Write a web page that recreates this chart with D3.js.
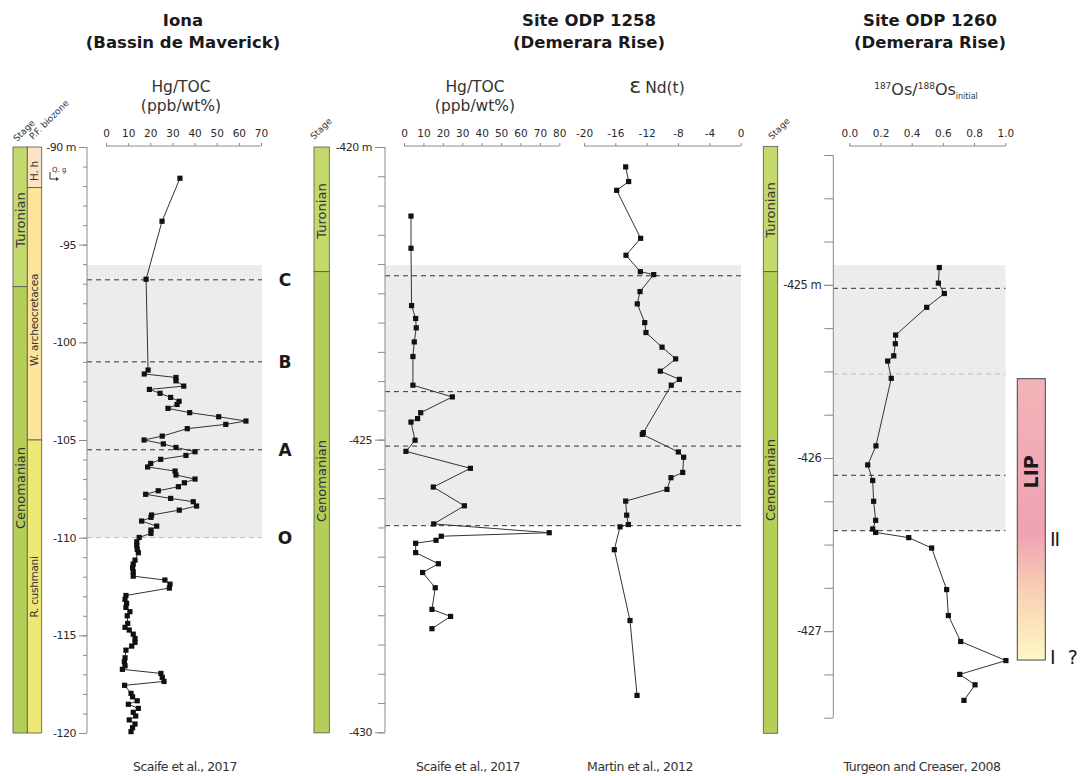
<!DOCTYPE html>
<html><head><meta charset="utf-8">
<script src="https://cdn.jsdelivr.net/npm/d3@7"></script>
<style>body{margin:0;background:#fff;} svg{display:block;font-family:"DejaVu Sans",sans-serif;}</style>
</head><body><svg id="c" width="1080" height="776"></svg>
<script>
// ---------------- DATA ----------------
const panelTitles = [["Iona","(Bassin de Maverick)"],["Site ODP 1258","(Demerara Rise)"],["Site ODP 1260","(Demerara Rise)"]];
const citations = ["Scaife et al., 2017","Scaife et al., 2017","Martin et al., 2012","Turgeon and Creaser, 2008"];

// Iona (Maverick Basin) Hg/TOC
const ionaDepth = [-91.6,-93.8,-96.77,-101.42,-101.62,-101.8,-101.97,-102.24,-102.41,-102.61,-102.82,-103.02,-103.18,-103.38,-103.6,-103.81,-104.03,-104.2,-104.42,-104.8,-105.0,-105.2,-105.38,-105.6,-105.79,-105.99,-106.2,-106.38,-106.59,-106.79,-107.0,-107.19,-107.39,-107.6,-107.78,-107.99,-108.16,-108.38,-108.59,-108.84,-108.96,-109.15,-109.41,-109.61,-109.78,-109.99,-110.21,-110.41,-110.6,-110.77,-111.15,-111.35,-111.54,-111.75,-111.97,-112.17,-112.38,-112.58,-112.96,-113.16,-113.36,-113.57,-113.79,-114.0,-114.39,-114.59,-114.73,-114.94,-115.16,-115.36,-115.55,-115.76,-116.15,-116.35,-116.56,-116.74,-116.95,-117.15,-117.36,-117.56,-117.97,-118.15,-118.35,-118.53,-118.74,-118.94,-119.13,-119.33,-119.54,-119.73,-119.93];
const ionaHgToc = [33.4,25.3,18.1,19.0,17.3,31.6,31.6,35.1,19.6,24.4,29.2,33.0,32.1,28.0,37.8,50.9,63.2,54.1,36.7,25.4,17.2,25.9,31.6,40.2,36.1,24.7,20.2,18.8,31.2,31.6,40.2,35.4,32.7,23.6,17.9,29.2,39.4,40.9,33.1,20.6,20.3,16.1,22.9,20.3,20.3,15.0,13.9,13.9,14.1,14.6,13.1,12.3,12.0,12.3,12.3,26.6,28.9,28.6,9.0,8.6,9.3,9.0,10.8,9.6,9.8,8.6,10.5,12.3,13.1,13.1,11.6,9.0,8.6,8.3,8.6,7.4,24.8,25.4,26.2,8.4,11.3,12.0,14.1,10.1,14.6,12.3,13.4,10.5,13.1,12.0,11.3];
const ionaHgTicks = [0,10,20,30,40,50,60,70];
const ionaDepthLabels = [-90,-95,-100,-105,-110,-115,-120];
const ionaStages = [{name:"Turonian",top:-90,base:-97.15,color:"#c4d96c"},{name:"Cenomanian",top:-97.15,base:-120,color:"#b4ce57"}];
const ionaZones = [{name:"H. h",top:-90,base:-92.08,color:"#fde3c3"},{name:"W. archeocretacea",top:-92.08,base:-105,color:"#fde49c"},{name:"R. cushmani",top:-105,base:-120,color:"#ede775"}];
const ionaShade = [-96.04,-110];
const ionaEvents = [{name:"C",depth:-96.8,grey:false},{name:"B",depth:-101.0,grey:false},{name:"A",depth:-105.5,grey:false},{name:"O",depth:-110,grey:true}];

// ODP 1258 Hg/TOC and eNd
const s1258HgDepth = [-421.18,-421.73,-422.71,-422.93,-423.09,-423.33,-423.58,-424.07,-424.27,-424.54,-424.64,-424.7,-425.01,-425.2,-425.49,-425.81,-426.13,-426.44,-426.59,-426.65,-426.72,-426.77,-426.93,-427.12,-427.27,-427.53,-427.9,-428.02,-428.23];
const s1258HgToc = [3.6,3.6,3.9,6.0,6.3,5.3,4.6,4.6,24.9,8.6,7.0,3.6,5.7,1.0,34.2,15.1,31.1,15.3,74.8,19.2,16.5,6.0,6.0,17.7,9.6,16.1,14.4,24.0,14.4];
const s1258NdDepth = [-420.34,-420.59,-420.74,-421.56,-421.85,-422.13,-422.18,-422.47,-422.68,-423.0,-423.17,-423.42,-423.62,-423.83,-423.97,-424.07,-424.88,-424.91,-425.21,-425.3,-425.56,-425.65,-425.85,-426.05,-426.29,-426.45,-426.49,-426.88,-428.09,-429.37];
const s1258Nd = [-14.68,-14.3,-15.83,-12.77,-14.64,-12.81,-11.1,-12.85,-13.2,-12.25,-12.09,-10.04,-8.3,-10.26,-7.83,-8.86,-12.43,-12.56,-7.96,-7.28,-7.4,-8.9,-9.41,-14.68,-14.55,-14.34,-15.4,-16.13,-14.13,-13.23];
const s1258HgTicks = [0,10,20,30,40,50,60,70,80];
const s1258NdTicks = [-20,-16,-12,-8,-4,0];
const s1258DepthLabels = [-420,-425,-430];
const s1258Stages = [{name:"Turonian",top:-420,base:-422.13,color:"#c4d96c"},{name:"Cenomanian",top:-422.13,base:-430.01,color:"#b4ce57"}];
const s1258Shade = [-422.02,-426.47];
const s1258Events = [-422.2,-424.18,-425.11,-426.47];

// ODP 1260 Os isotopes
const s1260Depth = [-424.9,-424.99,-425.05,-425.13,-425.29,-425.34,-425.41,-425.44,-425.54,-425.93,-426.04,-426.13,-426.25,-426.36,-426.41,-426.43,-426.46,-426.52,-426.76,-426.91,-427.06,-427.17,-427.25,-427.31,-427.4];
const s1260Os = [0.577,0.571,0.609,0.496,0.297,0.295,0.285,0.246,0.269,0.171,0.118,0.15,0.156,0.169,0.15,0.169,0.381,0.528,0.624,0.635,0.714,1.004,0.708,0.806,0.735];
const s1260OsTicks = [0,0.2,0.4,0.6,0.8,1.0];
const s1260DepthLabels = [-425,-426,-427];
const s1260Stages = [{name:"Turonian",top:-424.2,base:-424.924,color:"#c4d96c"},{name:"Cenomanian",top:-424.924,base:-427.59,color:"#b4ce57"}];
const s1260Shade = [-424.886,-426.42];
const s1260Events = [{depth:-425.02,grey:false},{depth:-425.515,grey:true},{depth:-426.1,grey:false},{depth:-426.42,grey:false}];
const lipInterval = [-425.542,-427.167];
const lipLabelDepth = -426.08;
const lipPhases = [{name:"II",depth:-426.47},{name:"I ?",depth:-427.15}];

// ---------------- DRAW ----------------
const svg = d3.select("#c");
const TXT = "#2b2b2b", AX = "#8a8a8a";

function titles(cx, lines){
  svg.append("text").attr("x",cx).attr("y",26).attr("text-anchor","middle").attr("font-weight","bold").attr("font-size",16.5).attr("fill","#1a1a1a").text(lines[0]);
  svg.append("text").attr("x",cx).attr("y",48).attr("text-anchor","middle").attr("font-weight","bold").attr("font-size",16.5).attr("fill","#1a1a1a").text(lines[1]);
}
titles(183, panelTitles[0]); titles(589, panelTitles[1]); titles(930, panelTitles[2]);

function axisTitle(cx, lines){
  lines.forEach((l,i)=>svg.append("text").attr("x",cx).attr("y",92+i*19).attr("text-anchor","middle").attr("font-size",15.5).attr("fill","#333").text(l));
}

function topAxis(x, ticks, fmt){
  const g = svg.append("g").attr("transform","translate(0,146)")
    .call(d3.axisTop(x).tickValues(ticks).tickSize(3).tickSizeOuter(3).tickPadding(6).tickFormat(fmt||(d=>d)));
  g.select(".domain").attr("stroke",AX).attr("d",`M${x.range()[0]},0H${x.range()[1]}`);
  g.selectAll(".tick line").attr("stroke",AX);
  g.selectAll("text").attr("font-size",10.5).attr("fill",TXT).attr("font-family","DejaVu Sans");
}

function depthAxis(y, ax, minorVals, labelVals, minorLen, majorLen, fs, unitFirst){
  const g = svg.append("g").attr("transform",`translate(${ax},0)`);
  g.call(d3.axisLeft(y).tickValues(minorVals).tickSize(minorLen).tickSizeOuter(0).tickFormat(""));
  g.select(".domain").attr("stroke",AX).attr("d",`M0,${y.range()[0]}V${y.range()[1]}`);
  g.selectAll(".tick line").attr("stroke",AX);
  const g2 = svg.append("g").attr("transform",`translate(${ax},0)`);
  g2.call(d3.axisLeft(y).tickValues(labelVals).tickSize(majorLen).tickSizeOuter(0).tickPadding(3)
    .tickFormat((d,i)=> i===0 && unitFirst ? d+" m" : d));
  g2.select(".domain").remove();
  g2.selectAll(".tick line").attr("stroke",AX);
  g2.selectAll("text").attr("font-size",fs).attr("fill",TXT).attr("font-family","DejaVu Sans").attr("letter-spacing","-0.5");
  return g2;
}

function column(y, x0, w, items, labelY){
  const g = svg.append("g");
  g.selectAll("rect").data(items).join("rect")
    .attr("x",x0).attr("width",w).attr("y",d=>y(d.top)).attr("height",d=>y(d.base)-y(d.top))
    .attr("fill",d=>d.color).attr("stroke","#555").attr("stroke-width",0.8);
  items.forEach((d,i)=>{
    const cy = labelY && labelY[i]!=null ? labelY[i] : (y(d.top)+y(d.base))/2;
    const isZone = d.name.includes(".");
    g.append("text").attr("transform",`translate(${x0+w/2+(isZone?3.5:4.6)},${cy}) rotate(-90)`)
      .attr("text-anchor","middle").attr("font-size", isZone?10.5:13)
      .attr("letter-spacing", isZone?"-0.3":"0")
      .attr("fill","#333").text(d.name);
  });
}

function series(x, y, xs, ys){
  const pts = xs.map((v,i)=>[x(v), y(ys[i])]);
  svg.append("path").attr("d",d3.line()(pts)).attr("fill","none").attr("stroke","#333").attr("stroke-width",1);
  svg.append("g").selectAll("rect").data(pts).join("rect")
    .attr("x",d=>d[0]-2.6).attr("y",d=>d[1]-2.6).attr("width",5.2).attr("height",5.2).attr("fill","#111");
}

function shade(x0,x1,y,interval){
  svg.append("rect").attr("x",x0).attr("width",x1-x0).attr("y",y(interval[0])).attr("height",y(interval[1])-y(interval[0])).attr("fill","#ececec");
}
function dashed(x0,x1,yy,grey){
  svg.append("line").attr("x1",x0).attr("x2",x1).attr("y1",yy).attr("y2",yy)
    .attr("stroke",grey?"#bdbdbd":"#333").attr("stroke-width",1).attr("stroke-dasharray","5,4");
}
function headerLabel(x,yy,t){
  svg.append("text").attr("transform",`translate(${x},${yy}) rotate(-45)`).attr("font-size",9).attr("fill","#333").text(t);
}

// ===== Iona =====
{
  const y = d3.scaleLinear().domain([-90,-120]).range([147,733]);
  const x = d3.scaleLinear().domain([0,70]).range([106,261]);
  shade(87,262,y,ionaShade);
  ionaEvents.forEach(e=>{
    dashed(87,262,y(e.depth),e.grey);
    svg.append("text").attr("x",285).attr("y",y(e.depth)+6).attr("text-anchor","middle").attr("font-size",17).attr("font-weight","bold").attr("fill","#1a1a1a").text(e.name);
  });
  column(y,13,14.3,ionaStages,[220,488]);
  column(y,27.3,14.4,ionaZones,[171,320,587]);
  headerLabel(17,142,"Stage"); headerLabel(33,140,"P.F. biozone");
  depthAxis(y,87,d3.range(-90,-120.5,-1),ionaDepthLabels,4,8,11,true);
  axisTitle(181,["Hg/TOC","(ppb/wt%)"]);
  topAxis(x,ionaHgTicks);
  series(x,y,ionaHgToc,ionaDepth);
  // Q. g marker
  svg.append("path").attr("d","M50,172V179H58").attr("fill","none").attr("stroke","#333").attr("stroke-width",1);
  svg.append("path").attr("d","M59,179l-3,-2v4z").attr("fill","#333");
  svg.append("text").attr("x",52).attr("y",172).attr("font-size",7).attr("fill","#333").text("Q. g");
}

// ===== ODP 1258 =====
{
  const y = d3.scaleLinear().domain([-420,-430]).range([147,732.3]);
  const xh = d3.scaleLinear().domain([0,80]).range([404,559.3]);
  const xn = d3.scaleLinear().domain([-20,0]).range([584,740.7]);
  shade(385,741,y,s1258Shade);
  s1258Events.forEach(d=>dashed(385,741,y(d),false));
  column(y,314,15.3,s1258Stages,[211,481]);
  headerLabel(314,140,"Stage");
  depthAxis(y,385,d3.range(-420,-430.2,-0.5),s1258DepthLabels,7,10,11,true);
  axisTitle(475,["Hg/TOC","(ppb/wt%)"]);
  const nt = svg.append("text").attr("x",657).attr("y",93).attr("text-anchor","middle").attr("fill","#333");
  nt.append("tspan").attr("font-size",22).text("ε");
  nt.append("tspan").attr("font-size",15.5).attr("dx",4).text("Nd(t)");
  topAxis(xh,s1258HgTicks);
  topAxis(xn,s1258NdTicks);
  series(xh,y,s1258HgToc,s1258HgDepth);
  series(xn,y,s1258Nd,s1258NdDepth);
}

// ===== ODP 1260 =====
{
  const y = d3.scaleLinear().domain([-424.25,-427.5]).range([155,717.7]);
  const x = d3.scaleLinear().domain([0,1]).range([849.3,1005.3]);
  shade(833,1005.5,y,s1260Shade);
  s1260Events.forEach(e=>dashed(833,1005.5,y(e.depth),e.grey));
  column(y,763.3,14.4,s1260Stages,[210,480]);
  headerLabel(772,140,"Stage");
  depthAxis(y,833.3,d3.range(-424.25,-427.51,-0.25),s1260DepthLabels,9,9,11.5,true);
  const ot = svg.append("text").attr("x",926).attr("y",95).attr("text-anchor","middle").attr("fill","#333");
  ot.append("tspan").attr("font-size",9).attr("dy",-6).text("187");
  ot.append("tspan").attr("font-size",16).attr("dy",6).text("Os/");
  ot.append("tspan").attr("font-size",9).attr("dy",-6).text("188");
  ot.append("tspan").attr("font-size",16).attr("dy",6).text("Os");
  ot.append("tspan").attr("font-size",8).attr("dy",4).text("initial");
  topAxis(x,s1260OsTicks,d3.format(".1f"));
  series(x,y,s1260Os,s1260Depth);
  // LIP bar
  const defs = svg.append("defs");
  const gr = defs.append("linearGradient").attr("id","lipg").attr("x1",0).attr("x2",0).attr("y1",0).attr("y2",1);
  [[0,"#f3b4b6"],[0.55,"#eea2b3"],[0.75,"#f8cfb4"],[1,"#fdf8c4"]].forEach(s=>gr.append("stop").attr("offset",s[0]).attr("stop-color",s[1]));
  svg.append("rect").attr("x",1017.3).attr("width",28).attr("y",y(lipInterval[0])).attr("height",y(lipInterval[1])-y(lipInterval[0]))
    .attr("fill","url(#lipg)").attr("stroke","#444").attr("stroke-width",1);
  svg.append("text").attr("transform",`translate(1038,${y(lipLabelDepth)}) rotate(-90)`).attr("text-anchor","middle").attr("font-size",19).attr("font-weight","bold").attr("fill","#1a1a1a").text("LIP");
  lipPhases.forEach(p=>svg.append("text").attr("x",1050).attr("y",y(p.depth)).attr("dy","0.35em")
    .attr("text-anchor","start").attr("font-size",19).attr("letter-spacing",p.name==="II"?"-1":"3").attr("fill","#1a1a1a").text(p.name));
}

// citations
[[185,0],[468,1],[640,2],[922,3]].forEach(c=>svg.append("text").attr("x",c[0]).attr("y",771).attr("text-anchor","middle").attr("font-size",12.5).attr("fill","#333").attr("letter-spacing","-0.5").text(citations[c[1]]));
</script></body></html>
